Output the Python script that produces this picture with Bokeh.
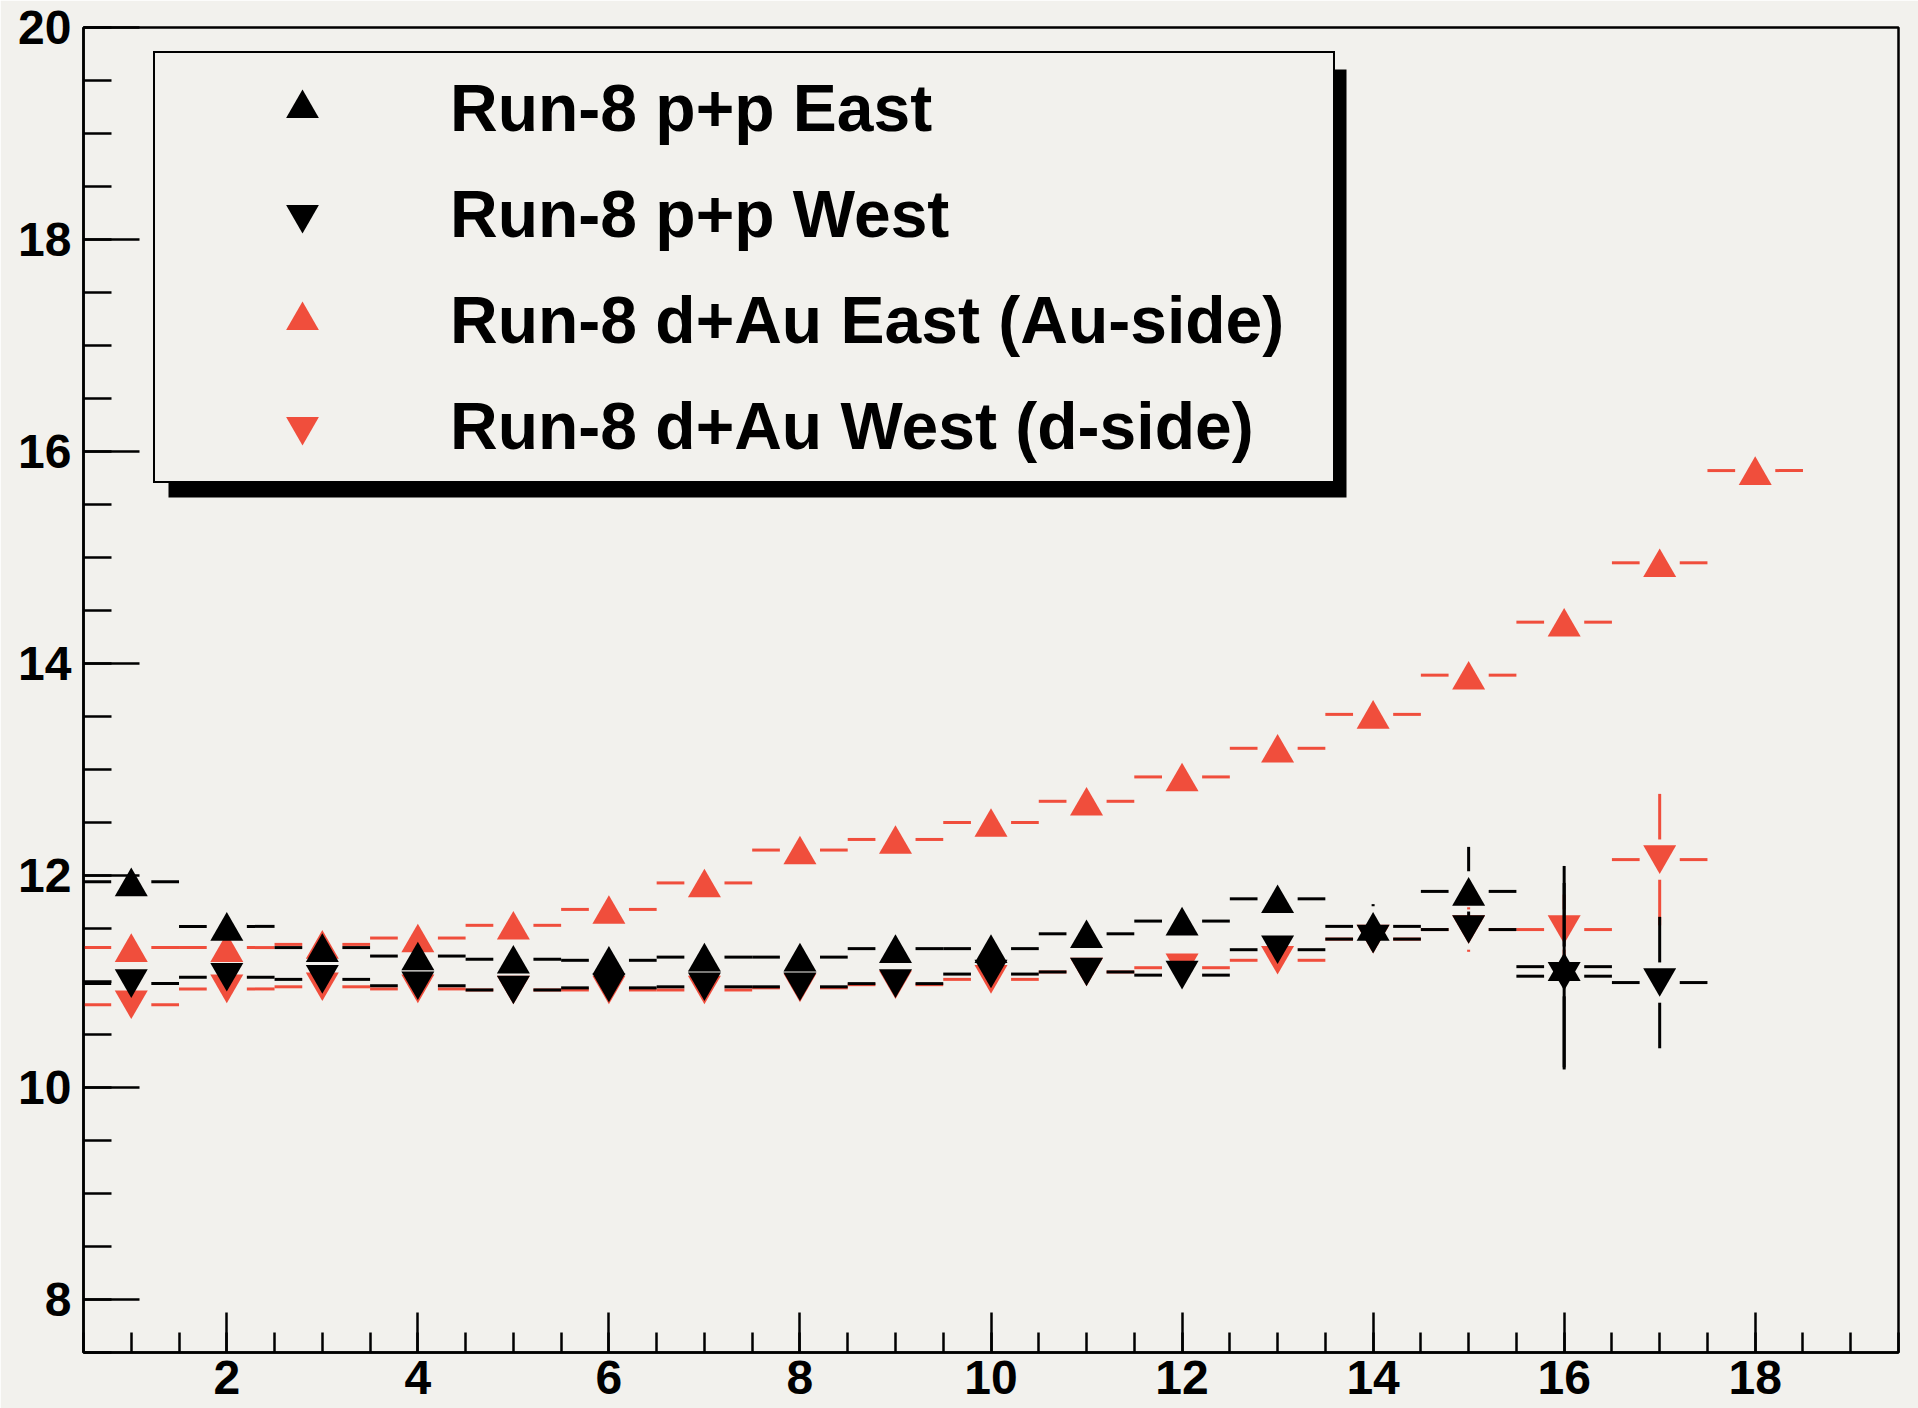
from bokeh.plotting import figure
from bokeh.models import (ColumnDataSource, Range1d, SingleIntervalTicker,
                          Legend, LegendItem, BoxAnnotation)
from bokeh.transform import dodge
from bokeh.embed import file_html
from bokeh.resources import INLINE

# ---------------- data ----------------
pp_east_x = list(range(1, 17))
pp_east_y = [11.94, 11.52, 11.32, 11.24, 11.21, 11.20, 11.23, 11.23, 11.31,
             11.31, 11.45, 11.57, 11.78, 11.52, 11.85, 11.14]
pp_east_err = [0.08, 0.07, 0.06, 0.06, 0.06, 0.06, 0.06, 0.07, 0.07,
               0.08, 0.09, 0.10, 0.12, 0.21, 0.42, 0.95]

pp_west_x = list(range(1, 18))
pp_west_y = [10.98, 11.04, 11.02, 10.96, 10.92, 10.94, 10.95, 10.95, 10.98,
             11.07, 11.09, 11.06, 11.30, 11.40, 11.49, 11.05, 10.99]
pp_west_err = [0.08, 0.07, 0.06, 0.06, 0.06, 0.06, 0.06, 0.07, 0.07,
               0.08, 0.09, 0.10, 0.12, 0.16, 0.15, 0.88, 0.62]

dau_east_x = list(range(1, 19))
dau_east_y = [11.32, 11.32, 11.35, 11.41, 11.53, 11.68, 11.93, 12.24, 12.34,
              12.50, 12.70, 12.93, 13.20, 13.52, 13.89, 14.39, 14.95, 15.82]
dau_east_err = [0.04, 0.03, 0.03, 0.03, 0.03, 0.03, 0.03, 0.03, 0.03,
                0.04, 0.04, 0.05, 0.05, 0.06, 0.07, 0.08, 0.10, 0.12]

dau_west_x = list(range(1, 18))
dau_west_y = [10.78, 10.93, 10.95, 10.93, 10.92, 10.92, 10.92, 10.94, 10.97,
              11.02, 11.09, 11.13, 11.20, 11.40, 11.49, 11.49, 12.15]
dau_west_err = [0.04, 0.03, 0.03, 0.03, 0.03, 0.03, 0.03, 0.03, 0.04,
                0.04, 0.05, 0.06, 0.08, 0.12, 0.21, 0.33, 0.62]

labels = ["Run-8 p+p East", "Run-8 p+p West",
          "Run-8 d+Au East (Au-side)", "Run-8 d+Au West (d-side)"]
x_ticks_interval = 2
y_ticks_interval = 2

# ---------------- style ----------------
BG = "#f2f1ed"
RED = "#f04e3c"
BLACK = "#000000"
FONT = "Liberation Sans"
GX = 0.21   # horizontal gap of error bars around marker (data units)
GY = 0.19   # vertical gap of error bars around marker (data units)
MSIZE = 33
SHIFT = 0.045  # move triangle centroid so that its box centre is on the point


def bar_source(xs, ys, es):
    x0, y0, x1, y1 = [], [], [], []
    for x, y, e in zip(xs, ys, es):
        x0 += [x - 0.5, x + GX]
        x1 += [x - GX, x + 0.5]
        y0 += [y, y]
        y1 += [y, y]
        if e > GY:
            x0 += [x, x]
            x1 += [x, x]
            y0 += [y + GY, y - GY]
            y1 += [y + e, y - e]
    return ColumnDataSource(dict(x0=x0, y0=y0, x1=x1, y1=y1))


p = figure(width=1918, height=1408,
           x_range=Range1d(0.5, 19.5), y_range=Range1d(7.5, 20),
           output_backend="svg", toolbar_location=None,
           min_border_left=83, min_border_right=20,
           min_border_top=27, min_border_bottom=56,
           background_fill_color=BG, border_fill_color=BG)

p.xgrid.grid_line_color = None
p.ygrid.grid_line_color = None
p.outline_line_color = BLACK
p.outline_line_width = 2.5
p.outline_line_alpha = 1.0

p.xaxis.ticker = SingleIntervalTicker(interval=x_ticks_interval, num_minor_ticks=4)
p.yaxis.ticker = SingleIntervalTicker(interval=y_ticks_interval, num_minor_ticks=4)
for ax in (p.xaxis, p.yaxis):
    ax.axis_line_color = BLACK
    ax.axis_line_width = 2.5
    ax.major_tick_line_color = BLACK
    ax.minor_tick_line_color = BLACK
    ax.major_tick_line_width = 2.5
    ax.minor_tick_line_width = 2.5
    ax.major_tick_out = 0
    ax.minor_tick_out = 0
    ax.major_label_text_font = FONT
    ax.major_label_text_font_style = "bold"
    ax.major_label_text_font_size = "48px"
    ax.major_label_text_color = BLACK
p.xaxis.major_tick_in = 40
p.xaxis.minor_tick_in = 20
p.yaxis.major_tick_in = 56
p.yaxis.minor_tick_in = 28
p.xaxis.major_label_standoff = 8
p.yaxis.major_label_standoff = 12

# legend shadow (drawn underneath everything)
shadow = BoxAnnotation(left=85, right=1263, bottom=855, top=1283,
                       left_units="screen", right_units="screen",
                       top_units="screen", bottom_units="screen",
                       fill_color=BLACK, fill_alpha=1.0, line_color=None,
                       level="underlay")
p.add_layout(shadow)

series = [
    (dau_east_x, dau_east_y, dau_east_err, RED, "triangle", -SHIFT),
    (dau_west_x, dau_west_y, dau_west_err, RED, "inverted_triangle", SHIFT),
    (pp_east_x, pp_east_y, pp_east_err, BLACK, "triangle", -SHIFT),
    (pp_west_x, pp_west_y, pp_west_err, BLACK, "inverted_triangle", SHIFT),
]
marker_renderers = []
for xs, ys, es, col, mk, sh in series:
    p.segment(x0="x0", y0="y0", x1="x1", y1="y1", source=bar_source(xs, ys, es),
              line_color=col, line_width=3, line_cap="butt")
    src = ColumnDataSource(dict(x=xs, y=ys))
    r = p.scatter(x="x", y=dodge("y", sh, range=p.y_range), source=src,
                  marker=mk, size=MSIZE, fill_color=col, line_color=None)
    marker_renderers.append(r)

items = [
    LegendItem(label=labels[0], renderers=[marker_renderers[2]]),
    LegendItem(label=labels[1], renderers=[marker_renderers[3]]),
    LegendItem(label=labels[2], renderers=[marker_renderers[0]]),
    LegendItem(label=labels[3], renderers=[marker_renderers[1]]),
]
legend = Legend(items=items, location=(70, 869), orientation="vertical",
                padding=14, spacing=24, margin=0,
                glyph_width=266, glyph_height=82,
                label_width=869, label_height=82, label_standoff=15,
                border_line_color=BLACK, border_line_width=2.5,
                border_line_alpha=1.0,
                background_fill_color=BG, background_fill_alpha=1.0,
                label_text_font=FONT, label_text_font_style="bold",
                label_text_font_size="66px", label_text_color=BLACK)
p.add_layout(legend, "center")

open("out.html", "w").write(file_html(p, INLINE))
